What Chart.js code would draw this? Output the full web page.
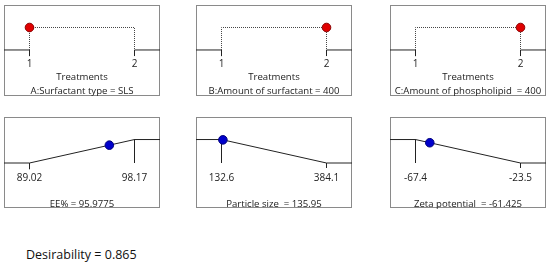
<!DOCTYPE html>
<html>
<head>
<meta charset="utf-8">
<script src="https://cdn.jsdelivr.net/npm/chart.js@4.4.1/dist/chart.umd.min.js"></script>
<style>
  body { margin: 0; background: #fff; width: 550px; height: 277px; position: relative; overflow: hidden; font-family: "Open Sans", sans-serif; }
  .box { position: absolute; border: 1px solid #8a8a8a; box-sizing: border-box; }
  .cv { position: absolute; }
  #desir { position: absolute; left: 26px; top: 246px; font-size: 12.5px; color: #111; white-space: pre; }
</style>
</head>
<body>
<div id="desir"></div>

<script>
// factors (top row)
const factorNames = ['A:Surfactant type = SLS', 'B:Amount of surfactant = 400', 'C:Amount of phospholipid  = 400'];
const factorLevels = [1, 2];
const factorLevelLabels = ['1', '2'];
const factorSetting = [1, 2, 2];

// responses (bottom row)
const responseNames = ['EE%', 'Particle size ', 'Zeta potential '];
const responseLow = [89.02, 132.6, -67.4];
const responseHigh = [98.17, 384.1, -23.5];
const responseTickLabels = [['89.02', '98.17'], ['132.6', '384.1'], ['-67.4', '-23.5']];
const responseValue = [95.9775, 135.95, -61.425];
const responseValueLabels = ['95.9775', '135.95', '-61.425'];
const responseDesir = [0.76, 0.987, 0.864];
const responseGoal = ['max', 'min', 'min'];

const overallDesirability = '0.865';

const panelLeft = [4, 196, 390];
const FONT = { family: '"Open Sans", sans-serif', size: 10 };
const TITLE_FONT = { family: '"Open Sans", sans-serif', size: 9.6, lineHeight: 1.46 };
const LINE = '#222';
const XPAD = 25.5 / 105; // keeps end points on pixel centres

function addPanel(left, top, boxH, canvasH) {
  const box = document.createElement('div');
  box.className = 'box';
  Object.assign(box.style, { left: left + 'px', top: top + 'px', width: '156px', height: boxH + 'px' });
  document.body.appendChild(box);
  const wrap = document.createElement('div');
  wrap.className = 'cv';
  Object.assign(wrap.style, { left: left + 'px', top: top + 'px', width: '156px', height: canvasH + 'px' });
  const c = document.createElement('canvas');
  wrap.appendChild(c);
  document.body.appendChild(wrap);
  return c;
}

function lineSet(data, dashed) {
  return {
    data, showLine: true, borderColor: dashed ? '#444' : LINE, borderWidth: 1,
    borderDash: dashed ? [1, 1] : [], pointRadius: 0, tension: 0, fill: false, clip: false
  };
}

function markerSet(pt, fill, edge) {
  return { data: [pt], showLine: false, pointRadius: 4.3, backgroundColor: fill, borderColor: edge, borderWidth: 1, clip: false };
}

function makeChart(canvas, datasets, xmin, xmax, ymin, ymax, tickVals, tickLabels, title, tickPad, titlePad) {
  return new Chart(canvas, {
    type: 'scatter',
    data: { datasets },
    options: {
      responsive: true, maintainAspectRatio: false, animation: false,
      layout: { padding: 0, autoPadding: false },
      plugins: { legend: { display: false }, tooltip: { enabled: false } },
      scales: {
        x: {
          type: 'linear', min: xmin, max: xmax,
          grid: { display: false, drawTicks: false }, border: { display: false },
          afterBuildTicks: (s) => { s.ticks = tickVals.map(v => ({ value: v })); },
          ticks: { padding: tickPad, color: '#222', font: FONT, maxRotation: 0, autoSkip: false,
                   callback: (v, i) => tickLabels[i] },
          title: { display: true, text: title, color: '#222', font: TITLE_FONT, padding: titlePad }
        },
        y: { display: false, min: ymin, max: ymax }
      }
    }
  });
}

// top row: factor settings
factorNames.forEach((name, i) => {
  const c = addPanel(panelLeft[i], 5, 91, 93);
  const l1 = factorLevels[0], l2 = factorLevels[1];
  const r = l2 - l1;
  const xmin = l1 - XPAD * r, xmax = l2 + XPAD * r;
  const tk = -0.27;
  const ds = [
    markerSet({ x: factorSetting[i], y: 1 }, '#e00000', '#8a0000'),
    lineSet([{ x: l1, y: 0 }, { x: l1, y: 1 }, { x: l2, y: 1 }, { x: l2, y: 0 }], true),
    lineSet([{ x: xmin, y: 0 }, { x: l1, y: 0 }, { x: l1, y: tk }]),
    lineSet([{ x: l2, y: tk }, { x: l2, y: 0 }, { x: xmax, y: 0 }])
  ];
  makeChart(c, ds, xmin, xmax, -0.355, 2, factorLevels, factorLevelLabels,
    ['Treatments', name], 0, { top: 0, bottom: 0 });
});

// bottom row: response desirabilities
responseNames.forEach((name, i) => {
  const c = addPanel(panelLeft[i], 117, 91, 94);
  const lo = responseLow[i], hi = responseHigh[i];
  const r = hi - lo;
  const xmin = lo - XPAD * r, xmax = hi + XPAD * r;
  const maxGoal = responseGoal[i] === 'max';
  const dLo = maxGoal ? 0 : 1, dHi = maxGoal ? 1 : 0;
  const ds = [
    markerSet({ x: responseValue[i], y: responseDesir[i] }, '#0000cc', '#00007a'),
    lineSet([{ x: xmin, y: dLo }, { x: lo, y: dLo }, { x: hi, y: dHi }, { x: xmax, y: dHi }]),
    maxGoal
      ? lineSet([{ x: hi, y: 1 }, { x: hi, y: 0 }])
      : lineSet([{ x: lo, y: 1 }, { x: lo, y: 0 }]),
    maxGoal
      ? lineSet([{ x: lo, y: 0 }, { x: lo, y: -0.26 }])
      : lineSet([{ x: hi, y: 0 }, { x: hi, y: -0.2 }])
  ];
  makeChart(c, ds, xmin, xmax, -0.365, 1.96, [lo, hi], responseTickLabels[i],
    name + ' = ' + responseValueLabels[i], 1, { top: 11.4, bottom: 0 });
});

document.getElementById('desir').textContent = 'Desirability = ' + overallDesirability;
</script>
</body>
</html>
